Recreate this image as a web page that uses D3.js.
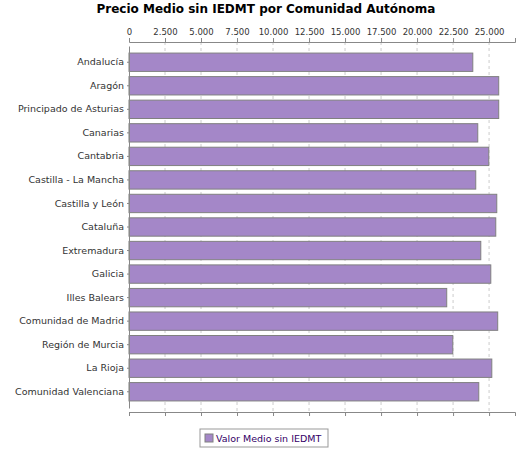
<!doctype html>
<html lang="es">
<head>
<meta charset="utf-8">
<script src="https://cdnjs.cloudflare.com/ajax/libs/d3/7.8.5/d3.min.js"></script>
<style>
  body { margin: 0; background: #fff; }
  text { font-family: "DejaVu Sans", sans-serif; }
</style>
</head>
<body>
<script>
var categories = ["Andalucía", "Aragón", "Principado de Asturias", "Canarias", "Cantabria",
  "Castilla - La Mancha", "Castilla y León", "Cataluña", "Extremadura", "Galicia",
  "Illes Balears", "Comunidad de Madrid", "Región de Murcia", "La Rioja", "Comunidad Valenciana"];
var values = [23870, 25670, 25670, 24215, 24980, 24075, 25535, 25465, 24425, 25120,
  22060, 25600, 22480, 25190, 24285];
var ticks = [0, 2500, 5000, 7500, 10000, 12500, 15000, 17500, 20000, 22500, 25000];
var seriesName = "Valor Medio sin IEDMT";

var width = 525, height = 450;
var mLeft = 129, mRight = 515, mTop = 42, mBottom = 412;
var fmt = d3.format(",.0f");
var svg = d3.select("body").append("svg").attr("width", width).attr("height", height);

svg.append("text").attr("x", 266).attr("y", 13).attr("text-anchor", "middle")
  .style("font-size", "12px").style("font-weight", "bold").text("Precio Medio sin IEDMT por Comunidad Autónoma");

var x = d3.scaleLinear().domain([0, 26800]).range([mLeft, mRight]);
var y = d3.scaleBand().domain(categories).range([mTop + 4, mBottom - 4]).paddingInner(0.22).paddingOuter(0.3);

// grid
svg.append("g").selectAll("line").data(ticks.slice(1)).join("line")
  .attr("x1", d => x(d)).attr("x2", d => x(d)).attr("y1", mTop).attr("y2", mBottom)
  .attr("stroke", "#ccc").attr("stroke-dasharray", "3,3");

svg.append("g").selectAll("rect").data(values).join("rect")
  .attr("x", x(0)).attr("y", (d, i) => y(categories[i]))
  .attr("width", d => x(d) - x(0)).attr("height", y.bandwidth())
  .attr("fill", "#a487c8").attr("stroke", "#808080");

var axT = svg.append("g").attr("transform", "translate(0," + mTop + ")")
  .call(d3.axisTop(x).tickValues(ticks).tickFormat(d => fmt(d).replace(/,/g, ".")).tickSizeOuter(0).tickSize(4));
axT.selectAll("text").style("font-size", "8.5px").attr("fill", "#333");
axT.selectAll("path,line").attr("stroke", "#888");

var axB = svg.append("g").attr("transform", "translate(0," + mBottom + ")")
  .call(d3.axisBottom(x).tickValues(ticks).tickFormat("").tickSizeOuter(0).tickSize(4));
axB.selectAll("path,line").attr("stroke", "#888");

var axL = svg.append("g").attr("transform", "translate(" + mLeft + ",0)")
  .call(d3.axisLeft(y).tickSize(2).tickSizeOuter(0));
axL.selectAll("text").style("font-size", "9.5px").attr("fill", "#333");
axL.selectAll("path,line").attr("stroke", "#888");

var lg = svg.append("g").attr("transform", "translate(200,429)");
lg.append("rect").attr("width", 128).attr("height", 18).attr("fill", "#fff").attr("stroke", "#999");
lg.append("rect").attr("x", 5).attr("y", 5).attr("width", 8).attr("height", 8).attr("fill", "#a487c8").attr("stroke", "#808080");
lg.append("text").attr("x", 16).attr("y", 13).style("font-size", "9.5px").attr("fill", "#330066").text(seriesName);
</script>
</body>
</html>
